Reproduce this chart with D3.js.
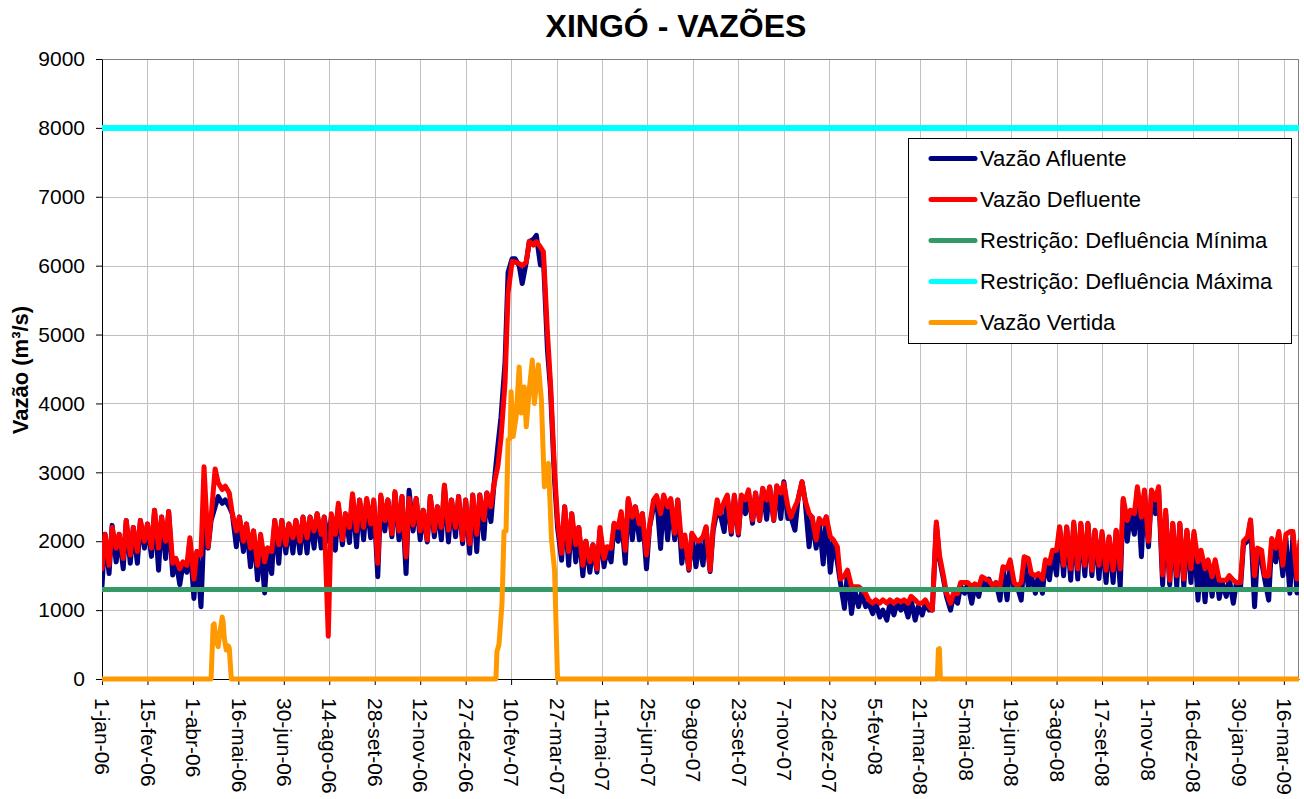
<!DOCTYPE html>
<html>
<head>
<meta charset="utf-8">
<title>XINGÓ - VAZÕES</title>
<script src="https://cdn.jsdelivr.net/npm/d3@7"></script>
<style>
  body { margin: 0; background: #fff; }
  svg { display: block; font-family: "Liberation Sans", Arial, sans-serif; }
</style>
</head>
<body>
<div id="chart"></div>
<script>
// periodo do grafico
var inicio = "2006-01-01";
var fim = "2009-03-31";

// vazoes semanais: domingo (dom) e quarta (qua), m3/s
var defluenteDom = [
  1600, 1650, 1900, 1750, 1800, 1850, 2000, 1900, 1900, 2000,
  1680, 1600, 1650, 1450, 1800, 1920, 3050, 2750, 2700, 2150,
  2000, 1900, 1650, 1700, 1850, 1950, 1950, 2050, 2000, 2050,
  2150, 2100, 620, 2100, 2020, 2200, 2150, 2200, 2250, 1680,
  2300, 2110, 2150, 1775, 2235, 2150, 2020, 2150, 2200, 2160,
  2200, 2020, 1965, 2100, 2310, 2500, 3100, 4300, 6060, 6030,
  6050, 6300, 6270, 5020, 3030, 1825, 1850, 1950, 1650, 1700,
  1600, 1750, 1900, 2200, 1870, 2350, 2250, 1800, 2600, 2400,
  2500, 2115, 1920, 1600, 2020, 2065, 1580, 2600, 2575, 2140,
  2115, 2600, 2310, 2310, 2600, 2310, 2700, 2500, 2500, 2865,
  2400, 2020, 2250, 2065, 1920, 1500, 1340, 1340, 1240, 1100,
  1100, 1100, 1100, 1120, 1100, 1150, 1100, 1050, 2280, 1500,
  1100, 1240, 1400, 1340, 1340, 1450, 1350, 1350, 1600, 1400,
  1400, 1750, 1500, 1450, 1680, 1870, 1650, 1600, 1600, 1650,
  1580, 1650, 1580, 1580, 1600, 2300, 2400, 2350, 2000, 2600,
  1510, 1435, 1500, 1450, 1600, 1700, 1600, 1485, 1435, 1435,
  1435, 1400, 2065, 1500, 1870, 1500, 1900, 1650, 2140, 1450
];
var defluenteQua = [
  2100, 2200, 2100, 2300, 2200, 2300, 2250, 2450, 2350, 2430,
  1750, 1700, 2050, 1850, 3080, 2350, 2850, 2800, 2400, 2350,
  2250, 2150, 2100, 1900, 2300, 2300, 2250, 2300, 2350, 2350,
  2400, 2350, 2400, 2550, 2400, 2690, 2600, 2620, 2600, 2670,
  2600, 2720, 2650, 2620, 2620, 2450, 2650, 2500, 2815, 2600,
  2650, 2600, 2670, 2670, 2700, 2815, 3500, 5600, 6050, 6000,
  6350, 6350, 6200, 4300, 2300, 2500, 2400, 2200, 2000, 1950,
  2200, 1920, 2260, 2430, 2620, 2500, 2400, 2210, 2660, 2670,
  2620, 2600, 2090, 2115, 2000, 2210, 2200, 2400, 2670, 2670,
  2670, 2745, 2700, 2770, 2790, 2800, 2840, 2350, 2600, 2600,
  2350, 2330, 2355, 2020, 1450, 1580, 1340, 1300, 1150, 1150,
  1150, 1150, 1150, 1150, 1200, 1100, 1150, 1000, 1800, 1250,
  1245, 1400, 1400, 1380, 1485, 1430, 1400, 1630, 1730, 1350,
  1775, 1530, 1530, 1730, 1870, 2210, 2210, 2280, 2260, 2260,
  2160, 2140, 2065, 2160, 2620, 2450, 2790, 2745, 2745, 2790,
  2450, 2260, 2260, 2160, 2140, 1870, 1730, 1730, 1435, 1500,
  1400, 2000, 2310, 1900, 1500, 2040, 2140, 2100, 2140, 2000
];
var afluenteDom = [
  1350, 1530, 1700, 1600, 1680, 1680, 1900, 1780, 1580, 1750,
  1510, 1370, 1550, 1170, 1050, 1900, 2500, 2550, 2500, 1920,
  1850, 1630, 1440, 1250, 1530, 1680, 1830, 1830, 1830, 1830,
  1900, 1900, 2000, 1870, 1950, 1980, 1920, 2020, 2050, 1485,
  2150, 2065, 2020, 1530, 2150, 2020, 1990, 2065, 2020, 1990,
  2065, 1965, 1825, 1850, 2040, 2285, 3400, 4600, 6100, 6000,
  6050, 6380, 6010, 4775, 2890, 1725, 1650, 1700, 1500, 1550,
  1550, 1630, 1700, 2000, 1680, 2020, 2020, 1600, 2500, 1895,
  2020, 2020, 1680, 1580, 1630, 1655, 1560, 2450, 2140, 2100,
  2090, 2400, 2260, 2300, 2320, 2300, 2330, 2330, 2160, 2860,
  1920, 1900, 1670, 1550, 1700, 1025, 950, 1050, 1050, 950,
  900, 855, 930, 1000, 900, 855, 930, 1000, 2250, 1450,
  1000, 1100, 1245, 1100, 1200, 1300, 1300, 1145, 1150, 1300,
  1145, 1340, 1245, 1245, 1440, 1510, 1500, 1435, 1450, 1500,
  1500, 1460, 1400, 1400, 1340, 2000, 2100, 1775, 1920, 2400,
  1365, 1365, 1340, 1340, 1400, 1145, 1120, 1200, 1170, 1200,
  1100, 1300, 2000, 1050, 1700, 1145, 1700, 1500, 1245, 1250
];
var afluenteQua = [
  2100, 2230, 2100, 2300, 2200, 2300, 2250, 2450, 2350, 2430,
  1750, 1650, 2000, 1850, 2200, 2300, 2650, 2600, 2400, 2350,
  2250, 2150, 2000, 1900, 2300, 2300, 2250, 2300, 2350, 2350,
  2400, 2350, 2350, 2500, 2400, 2650, 2600, 2600, 2580, 2650,
  2600, 2700, 2650, 2740, 2620, 2450, 2650, 2500, 2800, 2600,
  2650, 2600, 2670, 2670, 2700, 2815, 3800, 5900, 6100, 5740,
  6350, 6440, 6100, 4200, 2200, 2500, 2400, 2200, 2000, 1950,
  2150, 1900, 2250, 2400, 2600, 2500, 2400, 2200, 2650, 2650,
  2600, 2600, 2050, 2100, 2000, 2200, 2150, 2400, 2650, 2650,
  2650, 2700, 2700, 2750, 2780, 2800, 2865, 2350, 2600, 2600,
  2350, 2300, 2350, 2000, 1400, 1550, 1300, 1250, 1100, 1100,
  1000, 1100, 1100, 1100, 1150, 1050, 1100, 1000, 1750, 1200,
  1200, 1350, 1380, 1350, 1450, 1450, 1400, 1600, 1700, 1350,
  1750, 1500, 1500, 1700, 1850, 2200, 2200, 2250, 2250, 2250,
  2150, 2100, 2050, 2150, 2600, 2400, 2750, 2700, 2700, 2750,
  2400, 2250, 2250, 2150, 2100, 1800, 1700, 1700, 1400, 1450,
  1400, 1950, 2300, 1850, 1450, 2000, 2100, 2050, 2100, 1950
];

// vazao vertida: pontos onde a curva muda
var vertidaDatas = [
  "2006-01-01", "2006-04-19", "2006-04-21", "2006-04-22", "2006-04-24", "2006-04-26",
  "2006-04-28", "2006-04-30", "2006-05-01", "2006-05-02", "2006-05-04", "2006-05-06",
  "2006-05-07", "2006-05-09",
  "2007-01-26", "2007-01-27", "2007-01-29", "2007-02-01", "2007-02-03", "2007-02-05",
  "2007-02-07", "2007-02-09", "2007-02-10", "2007-02-12", "2007-02-15", "2007-02-18",
  "2007-02-20", "2007-02-23", "2007-02-25", "2007-02-28", "2007-03-03", "2007-03-05",
  "2007-03-09", "2007-03-12", "2007-03-14", "2007-03-15", "2007-03-19", "2007-03-22",
  "2007-03-25", "2007-03-28",
  "2008-04-07", "2008-04-08", "2008-04-09", "2008-04-10", "2009-03-31"
];
var vertidaValores = [
  0, 0, 780, 800, 550, 470,
  700, 900, 820, 600, 420, 480,
  450, 0,
  0, 400, 500, 1100, 2140, 2150,
  3470, 3500, 4170, 3520, 3810, 4530,
  3860, 4240, 3660, 4200, 4630, 4000,
  4560, 4050, 3180, 2790, 3130, 2020,
  1580, 0,
  0, 430, 440, 0, 0
];

// restricoes
var defluenciaMinima = 1300;
var defluenciaMaxima = 8000;

var rotulosX = [
  "1-jan-06", "15-fev-06", "1-abr-06", "16-mai-06", "30-jun-06", "14-ago-06", "28-set-06",
  "12-nov-06", "27-dez-06", "10-fev-07", "27-mar-07", "11-mai-07", "25-jun-07", "9-ago-07",
  "23-set-07", "7-nov-07", "22-dez-07", "5-fev-08", "21-mar-08", "5-mai-08", "19-jun-08",
  "3-ago-08", "17-set-08", "1-nov-08", "16-dez-08", "30-jan-09", "16-mar-09"
];
var ticksY = [0, 1000, 2000, 3000, 4000, 5000, 6000, 7000, 8000, 9000];

var legendaNomes = ["Vazão Afluente", "Vazão Defluente", "Restrição: Defluência Mínima",
                    "Restrição: Defluência Máxima", "Vazão Vertida"];
var cores = ["#000080", "#ff0000", "#339966", "#00ffff", "#ff9900"];

var width = 1304;
var height = 799;
var plot = {left: 102, right: 1299, top: 59, bottom: 679};

var parseData = d3.utcParse("%Y-%m-%d");
var meses = {jan: 0, fev: 1, mar: 2, abr: 3, mai: 4, jun: 5, jul: 6, ago: 7, set: 8, out: 9, nov: 10, dez: 11};
function parseRotulo(s) {
    var p = s.split("-");
    return new Date(Date.UTC(2000 + (+p[2]), meses[p[1]], +p[0]));
}

var d0 = parseData(inicio);
var d1 = parseData(fim);

var xScale = d3.scaleUtc().domain([d0, d1]).range([plot.left, plot.right]);
var yScale = d3.scaleLinear().domain([0, 9000]).range([plot.bottom, plot.top]);

// junta domingo e quarta numa serie so
function serieSemanal(dom, qua) {
    var pts = [];
    dom.forEach(function (v, i) {
        pts.push([d3.utcDay.offset(d0, 7 * i), v]);
        pts.push([d3.utcDay.offset(d0, 7 * i + 3), qua[i]]);
    });
    return pts;
}

var afluente = serieSemanal(afluenteDom, afluenteQua);
var defluente = serieSemanal(defluenteDom, defluenteQua);
var vertida = vertidaDatas.map(function (d, i) { return [parseData(d), vertidaValores[i]]; });
var minima = [[d0, defluenciaMinima], [d1, defluenciaMinima]];
var maxima = [[d0, defluenciaMaxima], [d1, defluenciaMaxima]];

var svg = d3.select("#chart").append("svg")
    .attr("width", width)
    .attr("height", height);

svg.append("rect").attr("width", width).attr("height", height).attr("fill", "#fff");

svg.append("defs").append("clipPath").attr("id", "area")
    .append("rect")
    .attr("x", plot.left).attr("y", plot.top - 5)
    .attr("width", plot.right - plot.left).attr("height", plot.bottom - plot.top + 10);

// grade
var tickDatas = rotulosX.map(parseRotulo);
var grade = svg.append("g").attr("stroke", "#c0c0c0").attr("stroke-width", 1);
grade.selectAll(".gv").data(tickDatas).enter().append("line")
    .attr("class", "gv")
    .attr("x1", function (d) { return Math.round(xScale(d)) + 0.5; })
    .attr("x2", function (d) { return Math.round(xScale(d)) + 0.5; })
    .attr("y1", plot.top).attr("y2", plot.bottom);
grade.selectAll(".gh").data(ticksY).enter().append("line")
    .attr("class", "gh")
    .attr("x1", plot.left).attr("x2", plot.right)
    .attr("y1", function (d) { return Math.round(yScale(d)) + 0.5; })
    .attr("y2", function (d) { return Math.round(yScale(d)) + 0.5; });

// borda superior e direita
svg.append("path")
    .attr("d", "M" + plot.left + "," + (plot.top + 0.5) + "H" + (plot.right - 0.5) + "V" + plot.bottom)
    .attr("fill", "none").attr("stroke", "#808080");

// eixo x
var xAxis = d3.axisBottom(xScale)
    .tickValues(tickDatas)
    .tickFormat(function (d, i) { return rotulosX[i]; })
    .tickSize(6)
    .tickSizeOuter(0);

var gx = svg.append("g")
    .attr("transform", "translate(0," + plot.bottom + ")")
    .call(xAxis);
gx.selectAll("text")
    .attr("font-size", 21)
    .attr("font-family", "Liberation Sans, Arial, sans-serif")
    .attr("fill", "#000")
    .attr("y", 0)
    .attr("x", 19)
    .attr("dy", "0.35em")
    .attr("text-anchor", "start")
    .attr("transform", "rotate(90)");

// eixo y
var yAxis = d3.axisLeft(yScale)
    .tickValues(ticksY)
    .tickFormat(d3.format("d"))
    .tickSize(6)
    .tickPadding(11)
    .tickSizeOuter(0);

var gy = svg.append("g")
    .attr("transform", "translate(" + plot.left + ",0)")
    .call(yAxis);
gy.selectAll("text")
    .attr("font-size", 21)
    .attr("font-family", "Liberation Sans, Arial, sans-serif")
    .attr("fill", "#000");

// titulo do eixo y
svg.append("text")
    .attr("transform", "translate(28,370) rotate(-90)")
    .attr("text-anchor", "middle")
    .attr("font-size", 22)
    .attr("font-weight", "bold")
    .text("Vazão (m³/s)");

// titulo
svg.append("text")
    .attr("x", 676)
    .attr("y", 37)
    .attr("text-anchor", "middle")
    .attr("font-size", 32)
    .attr("font-weight", "bold")
    .text("XINGÓ - VAZÕES");

// linhas
var line = d3.line()
    .x(function (d) { return xScale(d[0]); })
    .y(function (d) { return yScale(d[1]); });

var series = [afluente, defluente, minima, maxima, vertida];
var larguras = [5, 5, 5, 6, 5];

svg.append("g")
    .attr("clip-path", "url(#area)")
    .selectAll("path")
    .data(series)
    .enter()
    .append("path")
    .attr("d", line)
    .attr("fill", "none")
    .attr("stroke", function (d, i) { return cores[i]; })
    .attr("stroke-width", function (d, i) { return larguras[i]; })
    .attr("stroke-linejoin", "round")
    .attr("stroke-linecap", "round");

// legenda
var legenda = svg.append("g");
legenda.append("rect")
    .attr("x", 908.5).attr("y", 138.5)
    .attr("width", 383).attr("height", 205)
    .attr("fill", "#fff").attr("stroke", "#000");

var itens = legenda.selectAll(".item")
    .data(legendaNomes)
    .enter()
    .append("g")
    .attr("class", "item")
    .attr("transform", function (d, i) { return "translate(0," + (158.5 + i * 41) + ")"; });

itens.append("line")
    .attr("x1", 931).attr("x2", 975)
    .attr("stroke", function (d, i) { return cores[i]; })
    .attr("stroke-width", 5)
    .attr("stroke-linecap", "round");

itens.append("text")
    .attr("x", 980)
    .attr("dy", "0.35em")
    .attr("font-size", 22)
    .text(function (d) { return d; });
</script>
</body>
</html>
